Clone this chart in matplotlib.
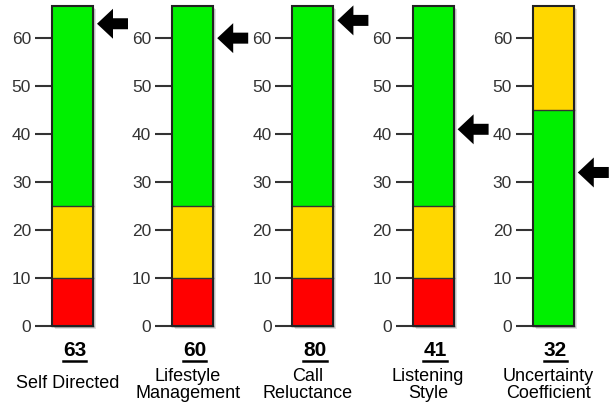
import matplotlib
matplotlib.use("Agg")
import matplotlib.pyplot as plt
import matplotlib.transforms as mtransforms
from matplotlib.patches import Rectangle, Polygon

plt.rcParams['font.family'] = ['Liberation Sans', 'DejaVu Sans']

# Scale names, scores and colour bands
names = ["Self Directed", "Lifestyle\nManagement", "Call\nReluctance",
         "Listening\nStyle", "Uncertainty\nCoefficient"]
scores = [63, 60, 80, 41, 32]
band_edges = [
    [0, 10, 25, 66.7],
    [0, 10, 25, 66.7],
    [0, 10, 25, 66.7],
    [0, 10, 25, 66.7],
    [0, 45, 66.7],
]
band_colors = [
    ["#ff0000", "#ffd700", "#00f000"],
    ["#ff0000", "#ffd700", "#00f000"],
    ["#ff0000", "#ffd700", "#00f000"],
    ["#ff0000", "#ffd700", "#00f000"],
    ["#00f000", "#ffd700"],
]
ticks = [0, 10, 20, 30, 40, 50, 60]
y_max = 66.7
pointer_cap = 63.7

W, H = 611, 407
fig = plt.figure(figsize=(W / 100, H / 100), dpi=100)
fig.patch.set_facecolor("white")

bar_w = 41
top_px, bottom_px = 6, 326

for i, name in enumerate(names):
    left_px = 52 + 120.2 * i
    ax = fig.add_axes([left_px / W, (H - bottom_px) / H, bar_w / W, (bottom_px - top_px) / H])
    ax.set_xlim(0, 1)
    ax.set_ylim(0, y_max)
    for s in ax.spines.values():
        s.set_visible(False)
    ax.set_xticks([])
    ax.set_yticks(ticks)
    ax.set_yticklabels([str(t) for t in ticks])
    ax.tick_params(axis="y", length=12, width=1.5, color="#333333", pad=3,
                   labelsize=12.5, labelcolor="#333333")
    ax.patch.set_alpha(0)

    # soft drop shadow
    for k in range(3):
        ax.add_patch(Rectangle((0, 0), 1, y_max, transform=mtransforms.offset_copy(
            ax.transData, fig=fig, x=1 + k, y=-(1 + k), units="dots"),
            facecolor="#000000", alpha=0.12, edgecolor="none", clip_on=False, zorder=1))

    edges = band_edges[i]
    for lo, hi, c in zip(edges[:-1], edges[1:], band_colors[i]):
        ax.add_patch(Rectangle((0, lo), 1, hi - lo, facecolor=c, edgecolor="none",
                               clip_on=False, zorder=2))
        ax.plot([0, 1], [lo, lo], color="#333333", lw=1.0, clip_on=False, zorder=3)
    ax.add_patch(Rectangle((0, 0), 1, y_max, facecolor="none", edgecolor="#222222",
                           lw=1.5, clip_on=False, zorder=4))

    # pointer arrow, tip just right of the bar
    val = min(scores[i], pointer_cap)
    arr_t = mtransforms.Affine2D() + mtransforms.ScaledTranslation(1, val, ax.transData)
    pts = [(4, 0), (20, 15), (20, 5.5), (35, 5.5), (35, -5.5), (20, -5.5), (20, -15)]
    ax.add_patch(Polygon(pts, closed=True, transform=arr_t, facecolor="black",
                         edgecolor="none", clip_on=False, zorder=5))

    # score and scale name
    cx = (left_px + bar_w / 2 + 2) / W
    t = fig.text(cx, 1 - 351 / H, str(scores[i]), ha="center", va="center",
                 fontsize=15, fontweight="bold", color="black")
    fig.canvas.draw()
    bb = t.get_window_extent()
    fig.add_artist(plt.Line2D([bb.x0 / W, bb.x1 / W], [1 - 360.5 / H, 1 - 360.5 / H],
                              color="black", lw=1.8, transform=fig.transFigure))
    ny = 384 if "\n" not in name else 385
    fig.text(cx - 7 / W, 1 - ny / H, name, ha="center", va="center",
             fontsize=13, color="black", linespacing=1.05)

fig.savefig("out.png", dpi=100, facecolor="white")
